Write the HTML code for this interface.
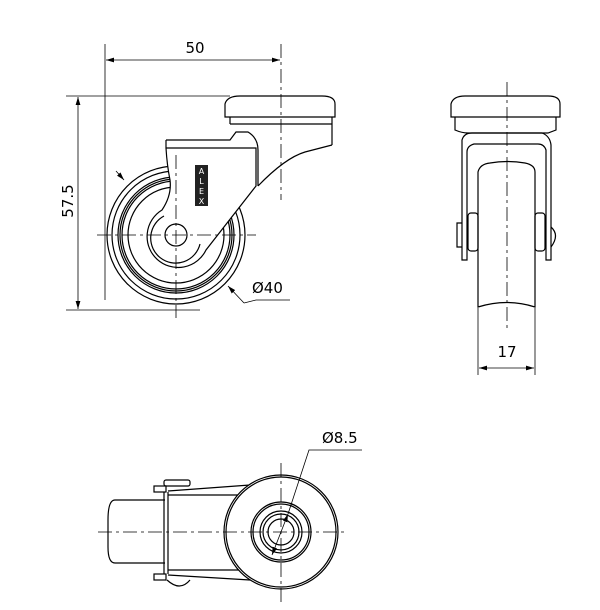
<!DOCTYPE html>
<html><head><style>html,body{margin:0;padding:0;background:#fff}svg{display:block}text{font-family:"DejaVu Sans","Liberation Sans",sans-serif;fill:#000}</style></head>
<body>
<svg width="600" height="610" viewBox="0 0 600 610" xmlns="http://www.w3.org/2000/svg" fill="none" stroke="#000" stroke-width="1.2">
<defs><marker id="a" viewBox="0 0 10 6" refX="10" refY="3" markerWidth="10" markerHeight="6" orient="auto-start-reverse"><path d="M0,0 L10,3 L0,6z" fill="#000" stroke="none"/></marker></defs>
<!-- wheel side -->
<circle cx="176" cy="235" r="69"/><circle cx="176" cy="235" r="64"/><circle cx="176" cy="235" r="58"/><circle cx="176" cy="235" r="56"/><circle cx="176" cy="235" r="54"/><circle cx="176" cy="235" r="48"/>
<!-- bracket -->
<path d="M225,117 L225,104 Q227,96 240,96 L322,96 Q335,96 335,104 L335,117 Z" fill="#fff"/>
<line x1="230" y1="117" x2="230" y2="124"/><line x1="332" y1="117" x2="332" y2="145"/><line x1="230" y1="124" x2="332" y2="124"/>
<path d="M166,140 L230,140 L236,132 L248,132 Q258,138 258,150 L258,186"/>
<path d="M258,186 Q285,158 305,152 L332,145"/>
<path d="M166,140 L166,148 L256,148 L256,186 L206,250 A31,31 0 1,1 162,210 Q172,195 170,180 Q167,165 166,148 Z" fill="#fff"/>
<path d="M200,244 A25,25 0 1,1 164,216"/>
<circle cx="176" cy="235" r="11" fill="#fff"/>
<rect x="195" y="165" width="13" height="41" fill="#222" stroke="none"/>
<text x="201.5" y="174" font-size="8" style="fill:#fff" stroke="none" text-anchor="middle">A</text>
<text x="201.5" y="184" font-size="8" style="fill:#fff" stroke="none" text-anchor="middle">L</text>
<text x="201.5" y="194" font-size="8" style="fill:#fff" stroke="none" text-anchor="middle">E</text>
<text x="201.5" y="204" font-size="8" style="fill:#fff" stroke="none" text-anchor="middle">X</text>
<!-- dimensions top-left -->
<g stroke-width="0.8">
<line x1="105" y1="44" x2="105" y2="300"/>
<line x1="281" y1="44" x2="281" y2="200" stroke-dasharray="14,4,3,4"/>
<line x1="106" y1="60" x2="280" y2="60" marker-start="url(#a)" marker-end="url(#a)"/>
<line x1="66" y1="96" x2="230" y2="96"/>
<line x1="66" y1="310" x2="200" y2="310"/>
<line x1="78" y1="97" x2="78" y2="309" marker-start="url(#a)" marker-end="url(#a)"/>
<line x1="97" y1="235" x2="256" y2="235" stroke-dasharray="14,4,3,4"/>
<line x1="176" y1="155" x2="176" y2="318" stroke-dasharray="14,4,3,4"/>
<line x1="116" y1="171" x2="124" y2="180" marker-end="url(#a)"/>
<line x1="244" y1="303" x2="228" y2="286" marker-end="url(#a)"/>
<polyline points="244,303 256,300 290,300"/>
</g>
<text x="195" y="53" font-size="15" stroke="none" text-anchor="middle">50</text>
<text x="0" y="0" font-size="15" stroke="none" text-anchor="middle" transform="translate(73,201) rotate(-90)">57.5</text>
<text x="252" y="293" font-size="15" stroke="none">Ø40</text>
<!-- right view -->
<path d="M451,117 L451,104 Q453,96 465,96 L548,96 Q560,96 560,104 L560,117 Z"/>
<path d="M455,117 L455,130 Q462,133 468,133 L548,133 L556,130 L556,117"/>
<path d="M462,260 L462,140 Q464,133 472,133 L542,133 Q550,136 551,145 L551,260 L546,260 L546,150 Q544,144 538,144 L474,144 Q467,146 467,152 L467,260 Z"/>
<path d="M478,307 L478,172 Q480,164 490,163 Q507,160 525,163 Q535,165 535,172 L535,307 Q507,298 478,307 Z"/>
<rect x="468" y="213" width="10" height="38" rx="3"/><rect x="535" y="213" width="10" height="38" rx="3"/>
<path d="M462,223 L457,223 L457,247 L462,247"/><path d="M551,227 Q560,235 551,247"/>
<g stroke-width="0.8">
<line x1="507" y1="82" x2="507" y2="330" stroke-dasharray="14,4,3,4"/>
<line x1="478" y1="308" x2="478" y2="375"/><line x1="535" y1="308" x2="535" y2="375"/>
<line x1="479" y1="368" x2="534" y2="368" marker-start="url(#a)" marker-end="url(#a)"/>
</g>
<text x="507" y="357" font-size="15" stroke="none" text-anchor="middle">17</text>
<!-- bottom view -->
<path d="M165,500 L115,500 Q108,500 108,520 L108,547 Q108,563 115,563 L165,563"/>
<rect x="154" y="486" width="12" height="6"/><rect x="154" y="574" width="12" height="6"/>
<path d="M164,492 L164,574 M168,492 L168,574 M168,491 L250,485 M168,575 L250,580 M168,495 L245,495 M168,570 L245,570"/>
<rect x="164" y="480" width="26" height="6" rx="2"/>
<path d="M167,580 Q180,592 190,580"/>
<circle cx="281" cy="532" r="57" fill="#fff"/><circle cx="281" cy="532" r="55"/>
<circle cx="281" cy="532" r="30"/><circle cx="281" cy="532" r="28"/>
<circle cx="281" cy="532" r="21"/><circle cx="281" cy="532" r="18"/><circle cx="281" cy="532" r="13"/>
<g stroke-width="0.8">
<line x1="98" y1="532" x2="346" y2="532" stroke-dasharray="14,4,3,4"/>
<line x1="281" y1="463" x2="281" y2="602" stroke-dasharray="14,4,3,4"/>
<line x1="272" y1="555" x2="288" y2="514" marker-start="url(#a)" marker-end="url(#a)"/>
<polyline points="288,514 309,450 362,450"/>
</g>
<text x="322" y="443" font-size="15" stroke="none">Ø8.5</text>
</svg>
</body></html>
